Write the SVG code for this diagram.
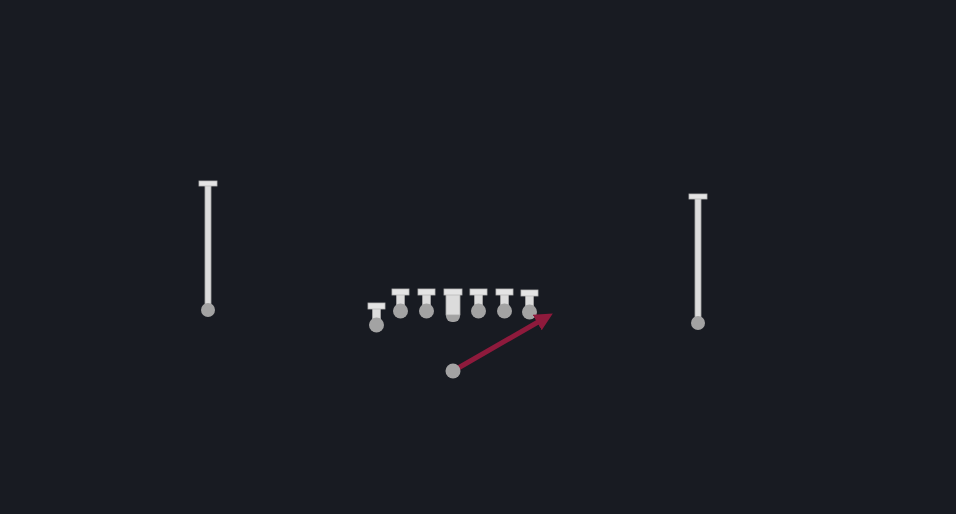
<svg xmlns="http://www.w3.org/2000/svg" width="956" height="514" viewBox="0 0 956 514">
  <style>
    .bar { fill: #e4e4e4; stroke: #b8b8b8; stroke-width: 0.8; }
    .stem { fill: #dcdcdc; stroke: #a8a8a8; stroke-width: 0.8; }
    .ball { fill: #a3a3a3; }
    .route { stroke: #8e1a3c; stroke-width: 5; fill: none; stroke-linecap: round; }
  </style>
  <defs>
    <marker id="ah" viewBox="0 0 10 10" refX="5" refY="5" markerWidth="3.6" markerHeight="3.6" orient="auto" markerUnits="strokeWidth">
      <path d="M0,0 L10,5 L0,10 z" fill="#8e1a3c"/>
    </marker>
  </defs>
  <rect x="0" y="0" width="956" height="514" fill="#181b22"/>

  <g id="post-left">
    <rect class="stem" x="205" y="183" width="6" height="125"/>
    <rect class="bar" x="199" y="181" width="18" height="5"/>
    <circle class="ball" cx="208" cy="310" r="7"/>
  </g>
  <g id="post-right">
    <rect class="stem" x="695" y="196" width="6" height="125"/>
    <rect class="bar" x="689" y="194" width="18" height="5"/>
    <circle class="ball" cx="698" cy="323" r="7"/>
  </g>

  <g id="player-1">
    <rect class="stem" x="372.5" y="305" width="8" height="17"/>
    <rect class="bar" x="368" y="303" width="17" height="6"/>
    <circle class="ball" cx="376.5" cy="325" r="7.5"/>
  </g>
  <g id="player-2">
    <rect class="stem" x="396.5" y="291" width="8" height="17"/>
    <rect class="bar" x="392" y="289" width="17" height="6"/>
    <circle class="ball" cx="400.5" cy="311" r="7.5"/>
  </g>
  <g id="player-3">
    <rect class="stem" x="422.5" y="291" width="8" height="17"/>
    <rect class="bar" x="418" y="289" width="17" height="6"/>
    <circle class="ball" cx="426.5" cy="311" r="7.5"/>
  </g>
  <g id="player-center">
    <rect class="ball" x="446" y="308" width="14" height="14" rx="6"/>
    <rect class="stem" x="446" y="291" width="14" height="24"/>
    <rect class="bar" x="444" y="289" width="18" height="6"/>
  </g>
  <g id="player-5">
    <rect class="stem" x="474.5" y="291" width="8" height="17"/>
    <rect class="bar" x="470" y="289" width="17" height="6"/>
    <circle class="ball" cx="478.5" cy="311" r="7.5"/>
  </g>
  <g id="player-6">
    <rect class="stem" x="500.5" y="291" width="8" height="17"/>
    <rect class="bar" x="496" y="289" width="17" height="6"/>
    <circle class="ball" cx="504.5" cy="311" r="7.5"/>
  </g>
  <g id="player-7">
    <rect class="stem" x="525.5" y="292" width="8" height="17"/>
    <rect class="bar" x="521" y="290" width="17" height="6"/>
    <circle class="ball" cx="529.5" cy="312" r="7.5"/>
  </g>

  <g id="connectors">
    <line class="route" x1="453" y1="371" x2="545" y2="318" marker-end="url(#ah)"/>
  </g>
  <g id="back">
    <circle class="ball" cx="453" cy="371" r="7.5"/>
  </g>
</svg>
